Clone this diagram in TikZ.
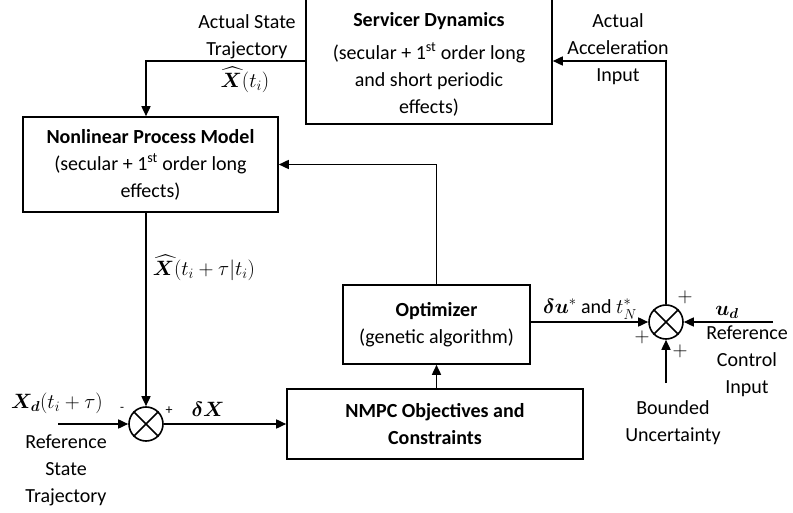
\documentclass[tikz,border=0pt]{standalone}
\usepackage{amsmath,bm}
\usepackage{fontspec}
\setmainfont{Carlito}
\usetikzlibrary{arrows.meta}
\begin{document}
\begin{tikzpicture}[x=1pt,y=-1pt,
  font=\fontsize{20}{27}\selectfont,
  line width=1.6pt,
  box/.style={draw,rectangle,align=center,inner sep=0pt},
  sumnode/.style={draw,circle,minimum size=34pt,inner sep=0pt},
  arr/.style={-{Triangle[length=10pt,width=9pt]}},
  lbl/.style={align=center,inner sep=0pt}]
\useasboundingbox (0,0) rectangle (793,513);
% blocks
\node[box,minimum width=246pt,minimum height=126pt] (sd) at (429,61) {};
\node[lbl] (sdtext) at (429,64)
  {\textbf{Servicer Dynamics}\\[6pt](secular + 1\textsuperscript{st} order long\\and short periodic\\effects)};
\node[box,minimum width=255pt,minimum height=95pt] (npm) at (150.5,164.5)
  {\textbf{Nonlinear Process Model}\\(secular + 1\textsuperscript{st} order long\\effects)};
\node[box,minimum width=187pt,minimum height=79pt] (opt) at (436.5,324.5)
  {\textbf{Optimizer}\\(genetic algorithm)};
\node[box,minimum width=296pt,minimum height=70pt] (nmpc) at (435,424)
  {\textbf{NMPC Objectives and}\\\textbf{Constraints}};
% summing junctions
\node[sumnode] (s1) at (146,424) {};
\draw (s1.north west) -- (s1.south east) (s1.north east) -- (s1.south west);
\node[sumnode] (s2) at (666,322) {};
\draw (s2.north west) -- (s2.south east) (s2.north east) -- (s2.south west);
% free ends
\coordinate (xdin) at (58,424);
\coordinate (udin) at (773,322);
\coordinate (buin) at (666,383);
% connectors
\draw[arr] (sd.west) -| (s1.north |- npm.north);
\draw[arr] (s2.north) |- (sd.east);
\draw[arr] (opt.north) |- (npm.east);
\draw[arr] (s1.north |- npm.south) -- (s1.north);
\draw[arr] (xdin) -- (s1.west);
\draw[arr] (s1.east) -- (nmpc.west);
\draw[arr] (opt.south |- nmpc.north) -- (opt.south);
\draw[arr] (opt.east |- s2.west) -- (s2.west);
\draw[arr] (udin) -- (s2.east);
\draw[arr] (buin) -- (s2.south);
% labels
\node[lbl] (l1) at (247,37) {Actual State\\Trajectory};
\node[lbl] (l2) at (245,80) {$\widehat{\bm{X}}(t_i)$};
\node[lbl] (l3) at (618,49) {Actual\\Acceleration\\Input};
\node[lbl,anchor=west] (l4) at (152,268) {$\widehat{\bm{X}}(t_i+\tau|t_i)$};
\node[lbl] (l5) at (57,403) {$\bm{X_d}(t_i+\tau)$};
\node[lbl] (l6) at (66,470) {Reference\\State\\Trajectory};
\node[lbl] (m1) at (122,409) {\fontsize{13}{14}\selectfont -};
\node[lbl] (p1) at (169,411) {\fontsize{14}{14}\selectfont +};
\node[lbl] (l7) at (208,409) {$\bm{\delta X}$};
\node[lbl] (l8) at (590,309) {$\bm{\delta u}^{*}\ \mathrm{and}\ t_N^{*}$};
\node[lbl] (p2) at (685,297) {$+$};
\node[lbl] (p3) at (642,337) {$+$};
\node[lbl] (p4) at (680,351) {$+$};
\node[lbl] (l9) at (727,312) {$\bm{u_d}$};
\node[lbl] (l10) at (747,361) {Reference\\Control\\Input};
\node[lbl] (l11) at (673,423) {Bounded\\Uncertainty};
\end{tikzpicture}
\end{document}
